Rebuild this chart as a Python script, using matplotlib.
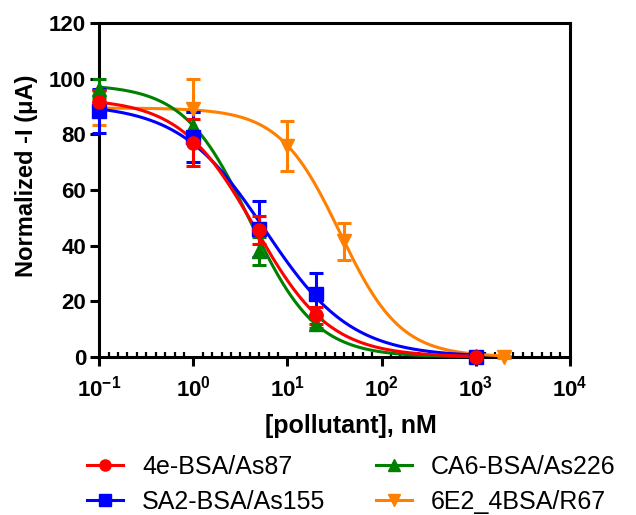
import matplotlib.pyplot as plt
import numpy as np
from matplotlib.lines import Line2D
from matplotlib.ticker import FixedLocator, NullFormatter

plt.rcParams["font.family"] = ["Liberation Sans", "DejaVu Sans"]
plt.rcParams["mathtext.fontset"] = "custom"
plt.rcParams["mathtext.rm"] = "Liberation Sans:bold"
plt.rcParams["mathtext.bf"] = "Liberation Sans:bold"
plt.rcParams["mathtext.it"] = "Liberation Sans:bold"

# measured points (concentration in nM, normalized -I)
names = ["4e-BSA/As87", "SA2-BSA/As155", "CA6-BSA/As226", "6E2_4BSA/R67"]
colors = ["#ff0000", "#0000ff", "#008000", "#ff8000"]
markers = ["o", "s", "^", "v"]

conc_a = [0.1, 1, 5, 20, 1000]
conc_b = [0.1, 1, 10, 40, 2000]

red_y = [91.5, 77.0, 45.5, 15.0, 0.0]
red_err = [4.5, 8.5, 5.0, 3.0, 0.5]
blue_y = [88.5, 79.0, 46.0, 22.5, 0.0]
blue_err = [8.0, 9.0, 10.0, 7.5, 0.5]
green_y = [96.5, 83.0, 38.0, 12.0, 0.5]
green_err = [3.5, 5.0, 5.0, 1.5, 0.5]
orange_y = [89.5, 89.0, 76.0, 41.5, 0.0]
orange_err = [6.0, 11.0, 9.0, 6.5, 0.5]

# 4PL fit parameters: top, bottom, IC50, hill
fit_top = [93.0, 91.0, 98.0, 89.5]
fit_bottom = [0.0, 0.0, 0.0, 0.0]
fit_ic50 = [4.5, 5.8, 4.0, 36.0]
fit_hill = [1.09, 0.95, 1.24, 1.35]
fit_xmax = [1000, 1000, 1000, 2000]

xs = [conc_a, conc_a, conc_a, conc_b]
ys = [red_y, blue_y, green_y, orange_y]
errs = [red_err, blue_err, green_err, orange_err]

fig = plt.figure(figsize=(6.36, 5.15), dpi=100)
ax = fig.add_axes([0.156, 0.307, 0.74, 0.648])

# draw orange first, red last (red sits on top in the original)
draw_order = [3, 2, 1, 0]
for i in draw_order:
    xx = np.logspace(-1, np.log10(fit_xmax[i]), 300)
    curve = fit_bottom[i] + (fit_top[i] - fit_bottom[i]) / (
        1 + (xx / fit_ic50[i]) ** fit_hill[i]
    )
    ax.plot(xx, curve, color=colors[i], lw=2.2, zorder=3, clip_on=False)

for i in draw_order:
    ax.errorbar(
        xs[i], ys[i], yerr=errs[i],
        fmt=markers[i], color=colors[i],
        markersize=9.5, elinewidth=2.2, capsize=5, capthick=2.2,
        zorder=4, clip_on=False,
    )

ax.set_xscale("log")
ax.set_xlim(0.1, 1e4)
ax.set_ylim(0, 120)
ax.set_yticks([0, 20, 40, 60, 80, 100, 120])

major = [0.1, 1, 10, 100, 1000, 10000]
ax.xaxis.set_major_locator(FixedLocator(major))
ax.set_xticklabels(
    [r"$10^{-1}$", r"$10^{0}$", r"$10^{1}$", r"$10^{2}$",
     r"$10^{3}$", r"$10^{4}$"]
)
minor = [10 ** (k + j / 10) for k in range(-1, 4) for j in range(1, 10)]
ax.xaxis.set_minor_locator(FixedLocator(minor))
ax.xaxis.set_minor_formatter(NullFormatter())

for side in ["left", "right", "top", "bottom"]:
    ax.spines[side].set_linewidth(2.2)

ax.tick_params(axis="both", which="major", direction="out",
               length=6.5, width=2.2, labelsize=16)
ax.tick_params(axis="x", which="major", pad=7)
ax.tick_params(axis="y", which="major", pad=3)
ax.tick_params(axis="x", which="minor", direction="in",
               length=3.5, width=1.6)
for lab in ax.get_yticklabels():
    lab.set_fontweight("bold")

ax.set_xlabel("[pollutant], nM", fontsize=18, fontweight="bold")
ax.set_ylabel("Normalized -I (\u03bcA)", fontsize=17, fontweight="bold")
ax.xaxis.set_label_coords(0.535, -0.172)
ax.yaxis.set_label_coords(-0.13, 0.542)

handles = [
    Line2D([], [], color=colors[i], marker=markers[i], lw=2.2, markersize=8)
    for i in range(4)
]
leg_kw = dict(
    loc="center left", frameon=False, fontsize=18,
    handlelength=1.45, handletextpad=0.75, labelspacing=0.45,
    borderpad=0, borderaxespad=0, bbox_transform=fig.transFigure,
)
fig.legend([handles[0], handles[1]], [names[0], names[1]],
           bbox_to_anchor=(87 / 636, 1 - 484.5 / 515), **leg_kw)
fig.legend([handles[2], handles[3]], [names[2], names[3]],
           bbox_to_anchor=(376 / 636, 1 - 484.5 / 515), **leg_kw)

fig.savefig("out.png", dpi=100)
